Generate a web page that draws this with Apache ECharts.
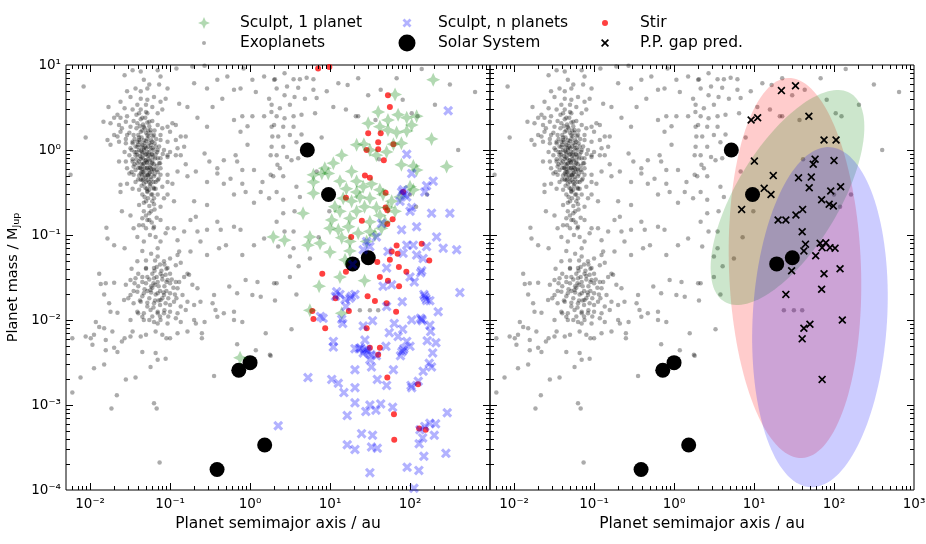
<!DOCTYPE html>
<html>
<head>
<meta charset="utf-8">
<title>Planet mass vs semimajor axis</title>
<script src="https://cdn.jsdelivr.net/npm/echarts@6.0.0/dist/echarts.min.js"></script>
<style>
  html, body { margin: 0; padding: 0; background: #fff; }
  #main { width: 926px; height: 544px; }
</style>
</head>
<body>
<div id="main"></div>
<script>
  // every point is [semimajor axis (au), mass (M_Jup)]
  var exoplanets = [
    [0.0083,5.6],[0.027,7.6],[0.034,8.7],[0.043,8.4],[0.047,6.7],[0.055,5.9],[0.07,8.7],[0.076,7.3],[0.12,9.1],[0.19,9.6],
    [0.39,6.7],[0.29,5.3],[0.52,7.3],[1.07,6.7],[1.18,4.8],[1.5,7.3],[2.0,6.7],[1.73,4.0],[1.85,2.8],[2.0,1.97],
    [0.83,9.1],[0.27,9.8],[0.2,6.1],[0.093,5.3],[0.073,5.9],[0.052,5.3],[0.043,4.9],[0.037,5.3],[0.029,4.9],[0.032,4.2],
    [0.043,4.0],[0.052,3.9],[0.063,4.2],[0.076,3.7],[0.088,4.0],[0.06,3.2],[0.05,3.4],[0.039,3.4],[0.034,3.0],[0.027,3.1],
    [0.024,3.7],[0.022,2.6],[0.02,2.4],[0.024,2.4],[0.029,2.5],[0.043,3.0],[0.052,2.7],[0.07,2.7],[0.08,3.0],[0.13,3.5],
    [0.165,3.2],[0.22,2.4],[0.34,3.2],[0.45,4.0],[0.63,2.25],[0.8,2.5],[0.93,1.9],[1.07,2.5],[1.5,2.5],[0.63,5.1],
    [0.76,5.3],[0.0147,2.15],[0.018,2.06],[0.017,3.2],[0.29,1.88],
    [0.023,1.97],[0.028,2.15],[0.025,1.8],[0.032,1.88],[0.039,2.06],[0.045,2.4],[0.055,2.15],[0.047,1.88],[0.057,1.72],[0.07,1.97],
    [0.08,1.8],[0.093,1.88],[0.107,2.06],[0.118,1.97],[0.10,1.64],[0.076,1.5],[0.063,1.5],[0.052,1.5],[0.043,1.64],[0.035,1.5],
    [0.029,1.5],[0.024,1.64],[0.022,1.44],[0.020,1.5],[0.0165,1.31],[0.018,1.15],[0.023,1.25],[0.028,1.2],[0.034,1.25],[0.041,1.31],
    [0.05,1.28],[0.06,1.25],[0.076,1.31],[0.093,1.25],[0.118,1.31],[0.136,1.44],[0.157,1.44],[0.15,1.09],[0.124,1.05],[0.10,0.95],
    [0.084,1.0],[0.07,1.0],[0.057,1.05],[0.047,1.0],[0.039,1.09],[0.032,1.05],[0.027,0.95],[0.031,0.87],[0.037,0.87],[0.045,0.91],
    [0.055,0.87],[0.066,0.89],[0.076,0.80],[0.093,0.87],[0.118,0.87],[0.136,0.87],[0.157,0.68],[0.124,0.56],[0.093,0.83],[0.073,0.70],
    [0.06,0.73],[0.05,0.76],[0.041,0.73],[0.034,0.73],[0.028,0.73],[0.023,0.73],[0.029,0.61],[0.035,0.64],[0.043,0.61],[0.052,0.61],
    [0.063,0.58],[0.076,0.61],[0.093,0.51],[0.076,0.51],[0.063,0.49],[0.052,0.51],[0.043,0.53],[0.035,0.51],[0.031,0.53],[0.024,0.39],
    [0.029,0.40],[0.037,0.42],[0.045,0.44],[0.055,0.42],[0.07,0.44],[0.093,0.42],[0.107,0.40],[0.165,0.49],[0.21,0.56],[0.29,0.42],
    [0.39,0.53],[0.47,0.76],[0.66,0.87],[0.69,0.73],[0.8,0.58],[1.12,0.58],[1.43,0.42],[1.81,0.87],[1.81,0.51],[1.9,1.44],
    [2.2,0.67],[0.93,1.15],[0.76,1.64],[0.39,0.61],[0.31,0.73],[0.27,0.91],[0.57,0.46],[0.47,0.40],[0.63,0.30],[0.88,0.32],
    [1.12,0.24],[0.8,0.40],[1.36,0.32],[1.73,0.27],[0.0057,0.51],[0.0088,1.4],
    [0.024,0.32],[0.034,0.35],[0.041,0.34],[0.045,0.30],[0.052,0.32],[0.063,0.35],[0.08,0.37],[0.093,0.30],[0.112,0.25],[0.084,0.27],
    [0.063,0.27],[0.05,0.25],[0.041,0.225],[0.047,0.19],[0.055,0.18],[0.045,0.157],[0.055,0.15],[0.041,0.13],[0.05,0.12],[0.035,0.12],
    [0.039,0.095],[0.047,0.084],[0.063,0.125],[0.076,0.15],[0.093,0.12],[0.112,0.12],[0.088,0.105],[0.124,0.087],[0.15,0.11],[0.18,0.15],
    [0.21,0.164],[0.22,0.11],[0.29,0.115],[0.29,0.225],[0.2,0.25],[0.43,0.115],[0.39,0.143],[0.63,0.125],[0.76,0.115],[0.5,0.076],
    [0.41,0.07],[0.24,0.084],[0.29,0.058],[0.18,0.064],[0.124,0.058],[0.10,0.053],[0.084,0.049],[0.07,0.056],[0.063,0.041],[0.093,0.041],
    [0.118,0.044],[0.136,0.047],[0.165,0.035],[0.05,0.041],[0.039,0.049],[0.027,0.07],[0.02,0.076],[0.0165,0.091],[0.016,0.122],[0.076,0.215],
    [0.025,0.19],[0.032,0.17],[0.076,0.084],[0.13,0.064],[1.5,0.091],[0.8,0.058],[1.12,0.076],
    [0.013,0.035],[0.0136,0.0265],[0.0157,0.027],[0.02,0.0275],[0.015,0.020],[0.0173,0.0157],[0.018,0.0125],[0.022,0.0122],[0.028,0.026],[0.032,0.0295],
    [0.037,0.031],[0.045,0.032],[0.052,0.032],[0.063,0.031],[0.076,0.035],[0.093,0.0295],[0.118,0.028],[0.15,0.032],[0.173,0.034],[0.19,0.026],
    [0.22,0.0236],[0.0266,0.0172],[0.032,0.0197],[0.039,0.0215],[0.047,0.0206],[0.057,0.0225],[0.07,0.0206],[0.084,0.0197],[0.10,0.0206],[0.124,0.0236],
    [0.143,0.0197],[0.035,0.0157],[0.043,0.0164],[0.052,0.0144],[0.063,0.0157],[0.076,0.0172],[0.088,0.0157],[0.112,0.0164],[0.136,0.0144],[0.165,0.0164],
    [0.039,0.0125],[0.047,0.012],[0.057,0.0131],[0.07,0.0125],[0.084,0.012],[0.10,0.0125],[0.124,0.012],[0.157,0.0131],[0.2,0.015],[0.24,0.0164],
    [0.34,0.0157],[0.37,0.0131],[0.47,0.012],[0.63,0.0125],[0.88,0.0295],[1.24,0.028],[2.0,0.027],[0.69,0.0206],[1.07,0.0197],[1.36,0.0188],
    [0.55,0.0247],[0.355,0.0197],[0.0118,0.0095],[0.013,0.0083],[0.015,0.008],[0.0112,0.0067],[0.0088,0.0064],[0.0102,0.0061],[0.006,0.0061],[0.0107,0.0051],
    [0.0157,0.0058],[0.019,0.0073],[0.025,0.0056],[0.032,0.010],[0.034,0.0073],[0.045,0.0109],[0.047,0.010],[0.055,0.010],[0.063,0.0095],[0.07,0.0091],
    [0.076,0.010],[0.093,0.0091],[0.118,0.0105],[0.136,0.0095],[0.2,0.010],[0.21,0.0091],[0.27,0.0095],[0.25,0.007],[0.25,0.0061],[0.39,0.0109],
    [0.63,0.010],[0.8,0.0095],[1.57,0.007],[0.165,0.0073],[0.124,0.007],[0.10,0.0061],[0.09,0.0061],[0.08,0.0067],[0.066,0.0073],[0.05,0.0067],
    [0.043,0.0064],[0.032,0.0064],[0.027,0.0061],[0.02,0.0047],[0.0157,0.0044],[0.015,0.0030],[0.0112,0.0027],[0.0076,0.0021],[0.006,0.0014],[0.022,0.0042],
    [0.045,0.0042],[0.066,0.0041],[0.07,0.0034],[0.088,0.0035],[0.057,0.0028],[0.028,0.0020],[0.037,0.0021],[0.355,0.0022],[0.69,0.0052],[1.18,0.0044],
    [1.81,0.0038],[0.0216,0.0013],[0.0185,0.00091],[0.063,0.00105],[0.068,0.00091],[0.074,0.00021],
    [2.05,6.8],[2.7,8.0],[3.5,6.8],[4.2,6.8],[5.1,7.1],[6.2,6.8],[2.15,5.3],[2.9,5.6],[4.0,5.4],[6.2,5.1],
    [2.7,4.4],[3.6,4.2],[4.85,4.0],[6.8,4.1],[9.1,4.9],[12.7,6.1],[22.5,7.0],[30,4.4],[68,7.0],[140,9.0],
    [315,5.9],[650,4.8],[205,3.4],[1.86,3.4],[2.36,3.1],[3.15,3.4],[2.15,2.5],[2.7,2.36],[3.5,2.5],[4.4,2.6],
    [6.5,2.7],[11,3.2],[22.5,2.5],[1.86,1.88],[2.6,1.88],[3.5,1.88],[2.25,1.44],[3.15,1.5],[4.4,1.52],[7.85,1.4],
    [1.86,1.09],[2.6,1.09],[3.8,1.23],[2.15,0.87],[2.9,0.83],[3.3,0.76],[4.0,0.8],[2.36,0.61],[1.95,0.49],[2.6,0.49],
    [6.8,0.56],[3.8,0.37],[2.15,0.32],[2.6,0.26],[4.2,0.28],[2.6,0.18],[3.6,0.19],[2.15,0.143],[2.7,0.11],[3.5,0.11],
    [2.25,0.073],[3.5,0.070],[3.15,0.056],[5.6,0.053],[400,1.0],[105,2.7],
    [3.15,0.032],[2.15,0.027],[3.8,0.020],[2.05,0.017],[3.3,0.0078],[1.77,0.0039],[23.6,0.013],[31.5,0.013],[40,0.013],[163,0.30],
    [124,2.5],[81,3.9],[43,5.1],[37,2.25],[100,0.30],[119,0.215],[41,0.78],[16.6,5.8],[21,2.5],[15.8,3.0],
    [9.8,0.19],[7.2,0.094],[4.05,0.043],
    [0.036,1.35],[0.04,1.15],[0.044,1.1],[0.048,1.2],[0.053,1.1],[0.058,1.15],[0.033,1.0],[0.038,0.95],[0.042,0.85],[0.046,0.8],
    [0.05,0.9],[0.055,0.95],[0.06,0.88],[0.065,0.8],[0.034,0.78],[0.039,0.7],[0.044,0.68],[0.048,0.62],[0.052,0.7],[0.057,0.66],
    [0.062,0.6],[0.068,0.65],[0.037,0.58],[0.041,0.5],[0.046,0.55],[0.05,0.47],[0.054,0.52],[0.058,0.45],[0.064,0.52],[0.07,0.55],
    [0.04,0.45],[0.047,0.4],[0.056,0.38],[0.062,0.42],[0.044,1.4],[0.05,1.6],[0.038,1.8],[0.046,2.0],[0.055,1.9],[0.06,2.2],
    [0.035,2.2],[0.041,2.7],[0.049,2.4],[0.031,1.6],[0.028,1.35],[0.067,1.35],[0.073,1.1],[0.081,0.9],[0.052,0.33],[0.058,0.3],
    [0.066,0.35],[0.07,0.3],[0.048,0.28],[0.06,0.25],[0.055,0.22],[0.064,0.2],[0.05,0.17],[0.059,0.14],[0.068,0.16],
    [0.042,1.25],[0.047,1.05],[0.052,1.35],[0.045,0.95],[0.049,0.75],[0.053,0.85],[0.039,0.88],[0.043,0.78],[0.047,0.7],[0.051,0.62],
    [0.056,0.75],[0.06,0.7],[0.045,0.6],[0.04,0.62],[0.054,0.58],[0.059,0.55],[0.048,0.5],[0.043,0.45],[0.052,0.44],[0.057,0.48],
    [0.062,1.0],[0.066,1.1],[0.058,1.3],[0.037,1.1],[0.034,1.2],[0.041,1.0],[0.036,0.68],[0.033,0.55],[0.045,1.7],[0.052,2.1],
    [0.04,1.5],[0.057,1.6],[0.064,1.7],[0.043,2.3],[0.038,2.6],[0.05,2.8],[0.061,1.45],[0.069,0.95],[0.075,0.7],[0.072,0.46],
    [0.066,0.42],[0.055,0.34],[0.049,0.36],[0.044,0.38],[0.06,0.3],[0.053,0.27],[0.063,0.23],[0.047,0.24],[0.058,0.19],[0.052,0.15],
    [0.046,0.13],[0.062,0.12],[0.056,0.1],[0.066,0.095],
    [0.044,0.82],[0.049,0.88],[0.054,0.78],[0.046,0.68],[0.051,0.72],[0.056,0.62],[0.042,0.62],[0.048,0.56],[0.053,0.5],[0.058,0.6],
    [0.045,1.15],[0.05,1.05],[0.055,1.2],[0.043,0.98],[0.052,0.95],[0.06,1.05],[0.047,1.3],[0.054,1.45],[0.041,1.4],[0.049,1.1],
    [0.038,0.78],[0.063,0.68],[0.061,0.82],[0.05,0.42],[0.045,0.5],[0.056,0.54],[0.059,0.9],[0.036,0.95],[0.064,1.2],[0.053,1.7],
    [0.042,1.9],[0.048,1.8],[0.039,1.25],[0.068,0.58],[0.057,0.4],[0.046,0.45],[0.051,0.35],[0.062,0.36],[0.07,0.8],[0.044,0.55],
    [0.04,0.025],[0.05,0.027],[0.06,0.024],[0.07,0.028],[0.085,0.025],[0.045,0.019],[0.055,0.018],[0.065,0.017],[0.075,0.015],[0.09,0.022],
    [0.11,0.024],[0.035,0.022],[0.1,0.015],[0.12,0.018],[0.06,0.035],[0.08,0.033],[0.05,0.04],[0.1,0.035],[0.04,0.012],[0.06,0.011],
    [0.075,0.011],[0.13,0.028],[0.03,0.018],[0.085,0.045],[0.065,0.05],
    [0.045,0.028],[0.055,0.03],[0.065,0.026],[0.075,0.022],[0.058,0.021],[0.048,0.023],[0.068,0.032],[0.08,0.018],[0.09,0.028],[0.042,0.017],
    [0.052,0.016],[0.062,0.014],[0.07,0.012],[0.036,0.027],[0.1,0.027],[0.115,0.02],[0.085,0.013],[0.095,0.011],[0.05,0.05],[0.075,0.045],
    [0.04,0.035],[0.058,0.06],[0.045,0.065],[0.07,0.07],[0.033,0.04],
    [0.062,0.027],[0.072,0.025],[0.08,0.03],[0.066,0.02],[0.078,0.038],[0.088,0.034],[0.058,0.025],[0.052,0.022],[0.068,0.042],[0.095,0.018],
    [0.083,0.021],[0.072,0.017],[0.064,0.038],[0.09,0.04],[0.105,0.03]
  ];

  var solarSystem = [
    [0.387,1.74e-4],[0.723,2.56e-3],[1.0,3.15e-3],[1.524,3.38e-4],
    [5.20,1.0],[9.58,0.299],[19.2,0.0457],[30.1,0.054]
  ];

  var sculptOnePlanet = [
    [195,6.7],[65,4.5],[40,2.8],[53,2.25],[71,2.6],[91,2.4],[121,2.5],[105,1.97],[30,2.06],[42,1.88],
    [53,1.72],[68,1.61],[91,1.67],[78,1.2],[186,1.35],[21.5,1.15],[26.5,1.17],[31.5,1.0],[38,0.87],[51,0.95],
    [62,1.17],[78,0.67],[110,0.65],[121,0.58],[287,0.64],[14,0.87],[11,0.70],[8.6,0.61],[7.9,0.53],[6.2,0.51],
    [6.2,0.42],[9.5,0.53],[13.3,0.43],[18.6,0.56],[21.5,0.43],[26,0.37],[33,0.40],[21.5,0.32],[16,0.35],[14.6,0.27],
    [11.5,0.215],[18.6,0.25],[23.6,0.28],[31.5,0.27],[42,0.34],[46,0.30],[53,0.21],[59,0.25],[75,0.28],[100,0.37],
    [110,0.34],[65,0.19],[38,0.21],[27,0.215],[21.5,0.19],[17.7,0.157],[13.3,0.19],[10.5,0.15],[10,0.12],[17,0.125],
    [22.5,0.105],[31.5,0.143],[42,0.17],[48.6,0.143],[44,0.12],[31.5,0.11],[17.7,0.084],[14,0.093],[7.5,0.080],[5.6,0.095],
    [5.3,0.076],[2.7,0.087],[1.95,0.095],[4.6,0.18],[6.2,0.31],[17.7,0.065],[15.4,0.051],[28.7,0.084],[36.4,0.10],[12.7,0.115],
    [10,0.063],[0.75,0.0036],[7.3,0.025],[13.3,0.032],[27,0.029],[5.6,0.013],[14,0.012]
  ];

  var sculptManyPlanets = [
    [136,0.036],[113,0.028],[420,0.021],[149,0.020],[161,0.017],[177,0.0169],[225,0.0125],[140,0.0102],[105,0.0100],[177,0.0087],
    [181,0.0073],[164,0.0057],[211,0.0054],[192,0.0041],[174,0.0031],[186,0.0028],[146,0.0025],[127,0.0019],[105,0.0016],[80,0.0164],
    [51,0.0144],[63.5,0.0091],[81,0.0078],[55,0.0071],[71,0.0064],[91,0.0056],[100,0.0049],[82,0.0044],[76,0.0038],[62,0.0026],
    [51,0.0017],[39,0.0020],[33,0.0028],[31.5,0.0034],[27.3,0.0058],[23,0.0046],[20.5,0.0046],[29.5,0.0042],[26,0.0041],[32.5,0.0039],
    [38,0.0038],[50,0.0049],[26,0.0085],[34,0.0098],[20.5,0.020],[17.7,0.018],[15.8,0.0144],[12.1,0.0215],[11.7,0.019],[13.3,0.020],
    [7.6,0.011],[8.2,0.0105],[14,0.0102],[14.4,0.0091],[11,0.0056],[11,0.0048],[10.5,0.0020],[12.7,0.0018],[14.9,0.0014],[20.5,0.0026],
    [20.5,0.0016],[20.5,0.00106],[16.4,0.00075],[28,0.00084],[31.5,0.0010],[37.5,0.00087],[43,0.00103],[60.6,0.00094],[5.3,0.0021],[2.25,0.00057],
    [24.8,0.00046],[34,0.00044],[33,0.00032],[39,0.00031],[16.4,0.00034],[20.5,0.00030],[31.5,0.00016],[92,0.000185],[129,0.00017],[112,0.000105],
    [177,0.00061],[209,0.00060],[153,0.00056],[133,0.00051],[144,0.00041],[130,0.00035],[149,0.00025],[201,0.00044],[281,0.00027],[292,0.00081],
    [18.6,0.019],[15.4,0.0175],[46,0.025],[59,0.026],[100,0.032],
    [300,2.9],[91,0.89],[105,0.53],[195,0.43],[161,0.38],[153,0.32],[78.5,0.32],[91,0.28],[75,0.25],[105,0.21],
    [100,0.19],[186,0.18],[315,0.18],[121,0.125],[78.5,0.115],[44,0.137],[215,0.095],[91,0.076],[110,0.076],[161,0.073],
    [260,0.070],[383,0.067],[28.7,0.084],[38,0.095],[31.5,0.073],[26,0.067],[53,0.064],[82,0.061],[121,0.058],[146,0.053],
    [51,0.041],[140,0.038],[19.2,0.045],
    [85,0.30],[82,0.34],[135,0.0105],[142,0.0098],[152,0.019],[158,0.018],[84,0.0046],[79,0.0042],[27,0.0044],[24,0.0047],
    [29,0.0045],[103,0.0017]
  ];

  var stir = [
    [7.1,9.1],[9.8,9.5],[53,4.4],[56,3.2],[30,1.57],[43,1.57],[62,1.17],[40,1.23],[28.7,1.0],[40,1.02],
    [47,0.76],[27.3,0.50],[31.5,0.47],[49.5,0.315],[15.8,0.275],[49.5,0.21],[52,0.195],[60.6,0.153],[52,0.135],[25,0.147],
    [18.4,0.095],[68,0.075],[59,0.064],[70,0.060],[56,0.051],[72.6,0.042],[140,0.079],[174,0.050],[39,0.048],[15.8,0.037],
    [8,0.035],[82,0.32],[42,0.032],[53,0.029],[90,0.037],[73,0.025],[29.5,0.019],[36.4,0.0167],[51,0.0157],[67,0.0125],
    [6.0,0.0128],[6.2,0.0103],[8.7,0.0080],[17.2,0.0128],[11.7,0.018],[28.7,0.0080],[31.5,0.0047],[42,0.0047],[40,0.0039],[52,0.0021],
    [126,0.00175],[63,0.00078],[130,0.00053],[157,0.00051],[63.5,0.00039]
  ];

  var gapPrediction = [
    [22,5.0],[33,5.7],[9.2,2.25],[11.1,2.4],[48.5,2.5],[75,1.31],[106,1.31],[10.1,0.74],[58,0.78],[55,0.68],
    [100,0.75],[17.4,0.50],[36,0.47],[52,0.48],[13.4,0.354],[16.3,0.30],[49,0.36],[121,0.37],[91,0.33],[70,0.26],
    [87,0.23],[98,0.22],[7.0,0.20],[40.5,0.20],[33.4,0.172],[20,0.15],[25,0.15],[40,0.109],[44,0.078],[42,0.065],
    [67,0.080],[79,0.081],[71,0.071],[89,0.071],[103,0.070],[59,0.057],[29.5,0.038],[75,0.035],[119,0.040],[70,0.023],
    [25,0.020],[50,0.0089],[42,0.0080],[40,0.0060],[127,0.010],[71,0.0020]
  ];

  // regions in the right panel: centre (au, M_Jup), half axes in dex, tilt in degrees
  var regionCentreA = [32.5, 26.2, 66.7];
  var regionCentreM = [0.0409, 0.276, 0.0108];
  var regionMajorDex = [2.237, 1.458, 2.004];
  var regionMinorDex = [0.825, 0.63, 0.84];
  var regionAngle = [92.2, 56.5, 86.4];
  var regionColors = ['rgba(255,0,0,0.2)', 'rgba(0,128,0,0.2)', 'rgba(0,0,255,0.2)'];

  var FONT = "'DejaVu Sans', sans-serif";
  var SUP = {'-': '\u207b', '0': '\u2070', '1': '\u00b9', '2': '\u00b2', '3': '\u00b3',
             '4': '\u2074', '5': '\u2075', '6': '\u2076', '7': '\u2077', '8': '\u2078', '9': '\u2079'};
  var STAR = 'path://M0,-10L3.1,-3.1L10,0L3.1,3.1L0,10L-3.1,3.1L-10,0L-3.1,-3.1Z';
  var FAT_X = 'path://M0,2.2L2.2,0L5,2.8L7.8,0L10,2.2L7.2,5L10,7.8L7.8,10L5,7.2L2.2,10L0,7.8L2.8,5Z';
  var THIN_X = 'path://M0,1.5L1.5,0L5,3.5L8.5,0L10,1.5L6.5,5L10,8.5L8.5,10L5,6.5L1.5,10L0,8.5L3.5,5Z';

  function powerLabel(v, hideExp) {
    var e = Math.log10(v), r = Math.round(e);
    if (Math.abs(e - r) > 1e-6 || r === hideExp) return '';
    return '10' + String(r).split('').map(function (c) { return SUP[c]; }).join('');
  }

  // major and minor log ticks, drawn inward on all four sides
  var tickItems = [];
  (function () {
    var e, m, v;
    for (e = -3; e <= 2; e++) for (m = 1; m <= 9; m++) {
      v = m * Math.pow(10, e);
      if (v > 0.0051 && v < 999) tickItems.push([v, 1, m === 1 ? 0 : 1]);
    }
    for (e = -4; e <= 0; e++) for (m = 1; m <= 9; m++) {
      v = m * Math.pow(10, e);
      if (v > 1.01e-4 && v < 9.9) tickItems.push([1, v, m === 1 ? 2 : 3]);
    }
  })();

  function renderTicks(params, api) {
    var kind = api.value(2), segs = [], a, b, len, p;
    if (kind < 2) {
      len = kind === 0 ? 7 : 4;
      a = api.coord([api.value(0), 1e-4]);
      b = api.coord([api.value(0), 10]);
      p = Math.round(a[0]) + 0.5;
      segs.push([p, a[1], p, a[1] - len], [p, b[1], p, b[1] + len]);
    } else {
      len = kind === 2 ? 7 : 4;
      a = api.coord([0.005, api.value(1)]);
      b = api.coord([1000, api.value(1)]);
      p = Math.round(a[1]) + 0.5;
      segs.push([a[0], p, a[0] + len, p], [b[0], p, b[0] - len, p]);
    }
    return {
      type: 'group',
      children: segs.map(function (s) {
        return {type: 'line', shape: {x1: s[0], y1: s[1], x2: s[2], y2: s[3]},
                style: {stroke: '#000', lineWidth: 1}};
      })
    };
  }

  function renderRegion(params, api) {
    var i = params.dataIndex;
    var la = Math.log10(regionCentreA[i]), lm = Math.log10(regionCentreM[i]);
    var th = regionAngle[i] * Math.PI / 180, pts = [];
    for (var k = 0; k < 144; k++) {
      var t = k / 144 * 2 * Math.PI;
      var u = regionMajorDex[i] * Math.cos(t), w = regionMinorDex[i] * Math.sin(t);
      var dx = u * Math.cos(th) - w * Math.sin(th);
      var dy = u * Math.sin(th) + w * Math.cos(th);
      pts.push(api.coord([Math.pow(10, la + dx), Math.pow(10, lm + dy)]));
    }
    return {type: 'polygon', shape: {points: pts}, style: {fill: regionColors[i]}};
  }

  function scatter(name, data, g, symbol, size, color, z) {
    return {
      name: name, type: 'scatter', xAxisIndex: g, yAxisIndex: g, data: data,
      symbol: symbol, symbolSize: size, itemStyle: {color: color, opacity: 1},
      emphasis: {disabled: true}, silent: true, z: z
    };
  }

  function legendItem(name, cx, cy, size, textX) {
    return {
      data: [name], left: cx - size / 2, top: cy - 10, padding: 0, itemGap: 0,
      itemWidth: size, itemHeight: size, selectedMode: false,
      textStyle: {fontSize: 15.5, color: '#000', fontFamily: FONT, lineHeight: 20,
                  padding: [0, 0, 0, textX - (cx + size / 2 + 5)]}
    };
  }

  var dom = document.getElementById('main');
  var myChart = echarts.init(dom, null, {renderer: 'canvas'});

  var grids = [0, 1].map(function (g) {
    return {left: 66 + 424 * g, top: 65, width: 424, height: 425, show: true,
            borderColor: '#000', borderWidth: 1, backgroundColor: 'transparent',
            containLabel: false, outerBoundsMode: 'none'};
  });

  var option = {
    animation: false,
    backgroundColor: '#fff',
    grid: grids,
    legend: [
      legendItem('Sculpt, 1 planet', 204, 23, 12, 240),
      legendItem('Exoplanets', 204, 43, 4, 240),
      legendItem('Sculpt, n planets', 407, 23, 9, 438),
      legendItem('Solar System', 407, 43, 17, 438),
      legendItem('Stir', 605, 23, 6, 640),
      legendItem('P.P. gap pred.', 605, 43, 8, 640)
    ],
    xAxis: [0, 1].map(function (g) {
      return {
        type: 'log', logBase: 10, gridIndex: g, min: 0.005, max: 1000,
        name: 'Planet semimajor axis / au', nameLocation: 'middle', nameGap: 25,
        nameTextStyle: {fontSize: 15.5, color: '#000', fontFamily: FONT},
        axisLine: {show: false}, axisTick: {show: false}, splitLine: {show: false},
        axisLabel: {fontSize: 13.5, color: '#000', fontFamily: FONT, margin: 7,
                    showMinLabel: true, showMaxLabel: true, hideOverlap: false,
                    formatter: function (v) { return powerLabel(v, g === 0 ? 3 : 99); }}
      };
    }),
    yAxis: [0, 1].map(function (g) {
      return {
        type: 'log', logBase: 10, gridIndex: g, min: 1e-4, max: 10,
        name: g === 0 ? 'Planet mass / M{sub|Jup}' : '', nameLocation: 'middle', nameGap: 44,
        nameTextStyle: {fontSize: 14.5, color: '#000', fontFamily: FONT, lineHeight: 18,
                        rich: {sub: {fontSize: 9.5, color: '#000', fontFamily: FONT, verticalAlign: 'bottom'}}},
        axisLine: {show: false}, axisTick: {show: false}, splitLine: {show: false},
        axisLabel: {show: g === 0, fontSize: 13.5, color: '#000', fontFamily: FONT, margin: 5,
                    hideOverlap: false,
                    formatter: function (v) { return powerLabel(v, 99); }}
      };
    }),
    series: [
      scatter('Exoplanets', exoplanets, 0, 'circle', 4.5, 'rgba(0,0,0,0.33)', 1),
      scatter('Solar System', solarSystem, 0, 'circle', 15, '#000', 3),
      scatter('Stir', stir, 0, 'circle', 6, 'rgba(255,0,0,0.75)', 4),
      scatter('Sculpt, 1 planet', sculptOnePlanet, 0, STAR, 14, 'rgba(0,128,0,0.3)', 5),
      scatter('Sculpt, n planets', sculptManyPlanets, 0, FAT_X, 10, 'rgba(0,0,255,0.3)', 6),

      scatter('Exoplanets', exoplanets, 1, 'circle', 4.5, 'rgba(0,0,0,0.33)', 1),
      {type: 'custom', xAxisIndex: 1, yAxisIndex: 1, silent: true, z: 2,
       data: regionCentreA.map(function (a, i) { return [a, regionCentreM[i]]; }),
       renderItem: renderRegion},
      scatter('Solar System', solarSystem, 1, 'circle', 15, '#000', 3),
      scatter('P.P. gap pred.', gapPrediction, 1, THIN_X, 8, '#000', 4),

      {type: 'custom', xAxisIndex: 0, yAxisIndex: 0, silent: true, z: 10, data: tickItems, renderItem: renderTicks},
      {type: 'custom', xAxisIndex: 1, yAxisIndex: 1, silent: true, z: 10, data: tickItems, renderItem: renderTicks}
    ]
  };
  myChart.setOption(option, true);
</script>
</body>
</html>
